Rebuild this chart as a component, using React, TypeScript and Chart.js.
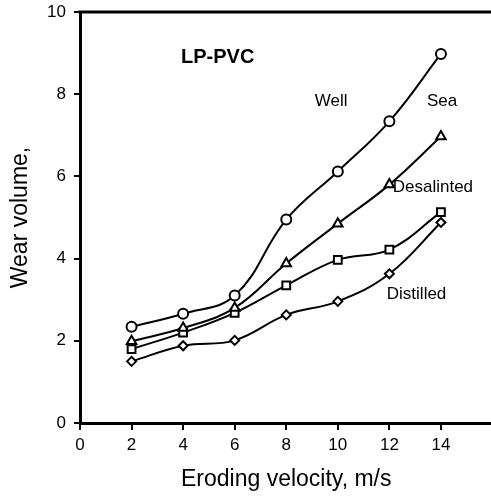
import { useEffect, useRef } from "react";
import { Chart, registerables } from "chart.js";

Chart.register(...registerables);

// Eroding velocity (m/s)
const velocities = [2, 4, 6, 8, 10, 12, 14];
const xTickValues = [0, 2, 4, 6, 8, 10, 12, 14];

// Wear volume for each test water
const wellWater = [2.34, 2.66, 3.1, 4.95, 6.12, 7.34, 8.98];
const seaWater = [1.99, 2.31, 2.8, 3.88, 4.85, 5.8, 6.97];
const desalinatedWater = [1.8, 2.2, 2.68, 3.35, 3.97, 4.22, 5.13];
const distilledWater = [1.5, 1.88, 2.01, 2.63, 2.96, 3.63, 4.88];

const xTitle = "Eroding velocity, m/s";
const yTitle = "Wear volume,";
const specimen = "LP-PVC";

const FONT = "Arial, 'Liberation Sans', sans-serif";

// Text placed inside the plot, anchored in data units (left edge, vertical middle)
const inPlotText = [
  { text: specimen, x: 3.92, y: 8.89, bold: true, size: 20 },
  { text: "Well", x: 9.11, y: 7.83, bold: false, size: 17 },
  { text: "Sea", x: 13.46, y: 7.83, bold: false, size: 17 },
  { text: "Desalinted", x: 12.13, y: 5.73, bold: false, size: 17 },
  { text: "Distilled", x: 11.9, y: 3.12, bold: false, size: 17 },
];

const textAndFrame = {
  id: "textAndFrame",
  afterDatasetsDraw(chart: any) {
    const { ctx, chartArea, scales } = chart;
    ctx.save();
    ctx.fillStyle = "#000";
    ctx.textAlign = "left";
    ctx.textBaseline = "middle";
    for (const t of inPlotText) {
      ctx.font = `${t.bold ? "bold " : ""}${t.size}px ${FONT}`;
      ctx.fillText(t.text, scales.x.getPixelForValue(t.x), scales.y.getPixelForValue(t.y));
    }
    // top frame line
    ctx.strokeStyle = "#000";
    ctx.lineWidth = 3;
    ctx.beginPath();
    ctx.moveTo(chartArea.left - 1.5, chartArea.top);
    ctx.lineTo(chartArea.right, chartArea.top);
    ctx.stroke();
    ctx.restore();
  },
};

function series(data: number[], pointStyle: string, radius: number) {
  return {
    data: velocities.map((v, i) => ({ x: v, y: data[i] })),
    borderColor: "#000",
    borderWidth: 2,
    backgroundColor: "#fff",
    pointStyle,
    pointRadius: radius,
    pointBorderWidth: 2,
    pointBackgroundColor: "#fff",
    pointBorderColor: "#000",
    tension: 0.4,
    fill: false,
  };
}

export default function App() {
  const canvasRef = useRef<HTMLCanvasElement | null>(null);

  useEffect(() => {
    if (!canvasRef.current) return;
    const chart = new Chart(canvasRef.current, {
      type: "line",
      data: {
        datasets: [
          series(wellWater, "circle", 5),
          series(seaWater, "triangle", 5.5),
          series(desalinatedWater, "rect", 5.5),
          series(distilledWater, "rectRot", 4.5),
        ] as any,
      },
      options: {
        responsive: false,
        animation: false,
        layout: { padding: { top: 12, right: 0, left: 0, bottom: 0 } },
        plugins: {
          legend: { display: false },
          tooltip: { enabled: false },
        },
        scales: {
          x: {
            type: "linear",
            min: 0,
            max: 16,
            ticks: {
              stepSize: 2,
              color: "#000",
              padding: 5,
              font: { family: FONT, size: 17 },
              callback: (v: number) => (xTickValues.includes(v) ? String(v) : ""),
            },
            grid: {
              drawOnChartArea: false,
              drawTicks: true,
              tickLength: 7,
              color: "#000",
              lineWidth: 2,
            },
            border: { color: "#000", width: 3 },
            title: {
              display: true,
              text: xTitle,
              color: "#000",
              font: { family: FONT, size: 23 },
              padding: { top: 0, bottom: 3 },
            },
            afterFit: (s: any) => {
              s.height = 73;
              s.paddingLeft = 0;
              s.paddingRight = 0;
            },
          },
          y: {
            type: "linear",
            min: 0,
            max: 10,
            ticks: {
              stepSize: 2,
              color: "#000",
              padding: 8,
              font: { family: FONT, size: 17 },
            },
            grid: {
              drawOnChartArea: false,
              drawTicks: true,
              tickLength: 6,
              color: "#000",
              lineWidth: 2,
            },
            border: { color: "#000", width: 3 },
            title: {
              display: true,
              text: yTitle,
              color: "#000",
              font: { family: FONT, size: 23 },
              padding: { top: 7, bottom: 0 },
            },
            afterFit: (s: any) => {
              s.width = 80;
              s.paddingTop = 0;
              s.paddingBottom = 0;
            },
          },
        },
      } as any,
      plugins: [textAndFrame],
    });
    return () => chart.destroy();
  }, []);

  return (
    <div
      style={{
        position: "absolute",
        left: 0,
        top: 0,
        width: 491,
        height: 496,
        overflow: "hidden",
        background: "#fff",
      }}
    >
      <canvas ref={canvasRef} width={500} height={496} style={{ display: "block" }} />
    </div>
  );
}
